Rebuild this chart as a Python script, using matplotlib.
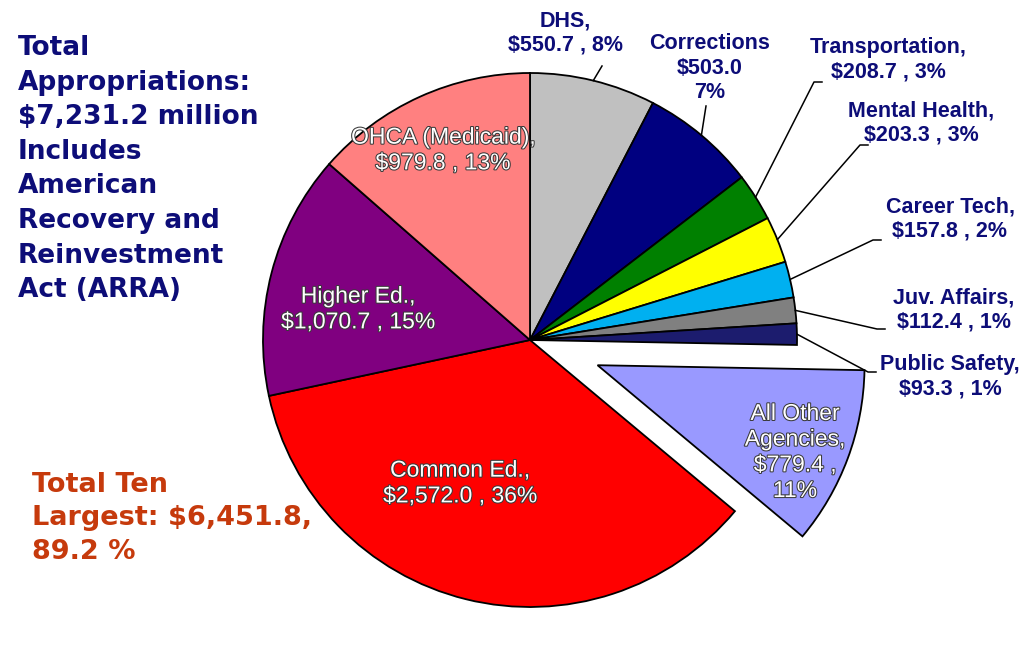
#---- Oklahoma appropriations pie chart (millions of dollars)
import numpy as np
import matplotlib
matplotlib.use("Agg")
import matplotlib.pyplot as plt
import matplotlib.patheffects as pe

#---- Data (clockwise from 12 o'clock)
agencies = ["DHS", "Corrections", "Transportation", "Mental Health", "Career Tech",
            "Juv. Affairs", "Public Safety", "All Other\nAgencies", "Common Ed.",
            "Higher Ed.", "OHCA (Medicaid)"]
amounts = [550.7, 503.0, 208.7, 203.3, 157.8, 112.4, 93.3, 779.4, 2572.0, 1070.7, 979.8]
amount_labels = ["$550.7", "$503.0", "$208.7", "$203.3", "$157.8", "$112.4", "$93.3",
                 "$779.4", "$2,572.0", "$1,070.7", "$979.8"]
pct_labels = ["8%", "7%", "3%", "3%", "2%", "1%", "1%", "11%", "36%", "15%", "13%"]
colors = ["#C0C0C0", "#000080", "#008000", "#FFFF00", "#00B0F0", "#808080",
          "#1C1C6E", "#9999FF", "#FF0000", "#800080", "#FF8080"]
explode = [0, 0, 0, 0, 0, 0, 0, 0.27, 0, 0, 0]

total_text = ("Total\nAppropriations:\n$7,231.2 million\nIncludes\nAmerican\n"
              "Recovery and\nReinvestment\nAct (ARRA)")
ten_text = "Total Ten\nLargest: $6,451.8,\n89.2 %"

NAVY = "#0D0D78"
R_PX = 267.0
CX, CY = 530.0, 340.0


def px(x, y):
    # pixel position -> data coords (pie radius = 1)
    return (x - CX) / R_PX, (CY - y) / R_PX


fig = plt.figure(figsize=(10.24, 6.47), dpi=100)
ax = fig.add_axes([0, 0, 1, 1])

wedges, _ = ax.pie(amounts, colors=colors, explode=explode, startangle=90,
                   counterclock=False, radius=1.0,
                   wedgeprops=dict(edgecolor="black", linewidth=1.3))

ax.set_xlim(-CX / R_PX, (1024 - CX) / R_PX)
ax.set_ylim(-(647 - CY) / R_PX, CY / R_PX)
ax.set_aspect("auto")
ax.axis("off")

#---- Outside labels: index -> (text centre px, leader elbow px)
outside = {
    0: ((565, 33), (602, 66)),
    1: ((710, 68), (706, 106)),
    2: ((888, 60), (814, 82)),
    3: ((921, 123), (860, 145)),
    4: ((950, 219), (873, 240)),
    5: ((954, 310), (877, 329)),
    6: ((950, 377), (868, 372)),
}
label_font = ["Liberation Sans", "DejaVu Sans"]

for i, ((tx, ty), (ex, ey)) in outside.items():
    if i == 1:
        txt = "%s\n%s\n%s" % (agencies[i], amount_labels[i], pct_labels[i])
    else:
        txt = "%s,\n%s , %s" % (agencies[i], amount_labels[i], pct_labels[i])
    x, y = px(tx, ty)
    ax.text(x, y, txt, ha="center", va="center", color=NAVY, fontsize=15.5,
            fontweight="bold", family=label_font, linespacing=1.2)

    w = wedges[i]
    mid = np.deg2rad((w.theta1 + w.theta2) / 2)
    sx, sy = np.cos(mid), np.sin(mid)
    exx, eyy = px(ex, ey)
    if i in (0, 1):
        ax.plot([sx, exx], [sy, eyy], color="black", lw=1.1)
    else:
        ax.plot([sx, exx, exx + 8 / R_PX], [sy, eyy, eyy], color="black", lw=1.1)

#---- Inside labels
inside = {
    10: (443, 150),
    9: (358, 309),
    8: (460, 483),
    7: (795, 452),
}
stroke = [pe.withStroke(linewidth=1.5, foreground="#3A3A3A")]
for i, (tx, ty) in inside.items():
    if i == 7:
        txt = "%s,\n%s ,\n%s" % (agencies[i], amount_labels[i], pct_labels[i])
    else:
        txt = "%s,\n%s , %s" % (agencies[i], amount_labels[i], pct_labels[i])
    x, y = px(tx, ty)
    ax.text(x, y, txt, ha="center", va="center", color="white", fontsize=16.5,
            family=label_font, linespacing=1.15, path_effects=stroke)

#---- Side notes
fig.text(18 / 1024, 1 - 35 / 647, total_text, ha="left", va="top", color=NAVY,
         fontsize=19, fontweight="heavy", family=["DejaVu Sans"], linespacing=1.43)
fig.text(32 / 1024, 1 - 472 / 647, ten_text, ha="left", va="top", color="#C63A0C",
         fontsize=19.5, fontweight="heavy", family=["DejaVu Sans"], linespacing=1.37)

fig.savefig("out.png", dpi=100, facecolor="white")
